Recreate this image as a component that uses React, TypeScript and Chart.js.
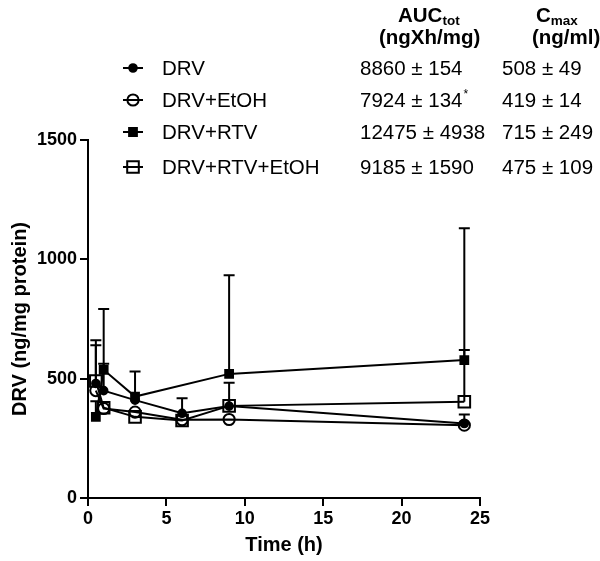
import React, { useEffect, useRef } from 'react';
import { Chart, registerables } from 'chart.js';

Chart.register(...registerables);

const FONT = "'Liberation Sans', Arial, Helvetica, sans-serif";

const times = [0.5, 1, 3, 6, 9, 24];
const seriesNames = ['DRV', 'DRV+EtOH', 'DRV+RTV', 'DRV+RTV+EtOH'];

const drvMean = [480, 450, 410, 355, 385, 312];
const drvSd = [160, 112, 0, 63, 0, 38];
const drvEtohMean = [450, 375, 360, 328, 329, 305];
const drvEtohSd = [0, 0, 0, 0, 0, 0];
const drvRtvMean = [340, 537, 425, null, 520, 578];
const drvRtvSd = [65, 255, 105, null, 413, 552];
const drvRtvEtohMean = [490, 378, 340, 325, 386, 403];
const drvRtvEtohSd = [171, 0, 0, 0, 97, 217];

const aucValues = ['8860 ± 154', '7924 ± 134', '12475 ± 4938', '9185 ± 1590'];
const aucMarks = ['', '*', '', ''];
const cmaxValues = ['508 ± 49', '419 ± 14', '715 ± 249', '475 ± 109'];

const xTickStep = 5;
const yTickStep = 500;

type Marker = { style: 'circle' | 'rect'; filled: boolean; radius: number };
const markers: Marker[] = [
  { style: 'circle', filled: true, radius: 3.8 },
  { style: 'circle', filled: false, radius: 5.6 },
  { style: 'rect', filled: true, radius: 5.5 },
  { style: 'rect', filled: false, radius: 8.2 },
];

const means = [drvMean, drvEtohMean, drvRtvMean, drvRtvEtohMean];
const sds = [drvSd, drvEtohSd, drvRtvSd, drvRtvEtohSd];

function drawMarker(ctx: CanvasRenderingContext2D, m: Marker, x: number, y: number) {
  ctx.save();
  ctx.lineWidth = 2;
  ctx.strokeStyle = '#000';
  ctx.fillStyle = '#000';
  ctx.beginPath();
  if (m.style === 'circle') {
    ctx.arc(x, y, m.radius, 0, Math.PI * 2);
  } else {
    const h = m.radius * Math.SQRT1_2;
    ctx.rect(x - h, y - h, 2 * h, 2 * h);
  }
  if (m.filled) ctx.fill();
  ctx.stroke();
  ctx.restore();
}

const errorBarPlugin = {
  id: 'errorBars',
  beforeDatasetsDraw(chart: any) {
    const { ctx, scales } = chart;
    ctx.save();
    ctx.strokeStyle = '#000';
    ctx.lineWidth = 2;
    sds.forEach((sdArr, si) => {
      sdArr.forEach((sd, i) => {
        const v = means[si][i];
        if (v == null || sd == null || sd <= 0) return;
        const px = scales.x.getPixelForValue(times[i]);
        const py = scales.y.getPixelForValue(v);
        const pt = scales.y.getPixelForValue(v + sd);
        ctx.beginPath();
        ctx.moveTo(px, py);
        ctx.lineTo(px, pt);
        ctx.moveTo(px - 5.5, pt);
        ctx.lineTo(px + 5.5, pt);
        ctx.stroke();
      });
    });
    ctx.restore();
  },
};

const tablePlugin = {
  id: 'legendTable',
  afterDraw(chart: any) {
    const ctx: CanvasRenderingContext2D = chart.ctx;
    ctx.save();
    ctx.fillStyle = '#000';
    ctx.textBaseline = 'alphabetic';
    ctx.textAlign = 'left';

    // headers
    ctx.font = `bold 20.5px ${FONT}`;
    ctx.fillText('AUC', 398, 22);
    const aucW = ctx.measureText('AUC').width;
    ctx.fillText('C', 536, 22);
    const cW = ctx.measureText('C').width;
    ctx.font = `bold 13.5px ${FONT}`;
    ctx.fillText('tot', 398 + aucW, 25);
    ctx.fillText('max', 536 + cW, 25);
    ctx.font = `bold 20.5px ${FONT}`;
    ctx.fillText('(ngXh/mg)', 379, 44);
    ctx.fillText('(ng/ml)', 532, 44);

    const baselines = [75, 107, 139, 174];
    seriesNames.forEach((name, i) => {
      const b = baselines[i];
      const cy = b - 7;
      ctx.save();
      ctx.strokeStyle = '#000';
      ctx.lineWidth = 2;
      ctx.beginPath();
      ctx.moveTo(123, cy);
      ctx.lineTo(143, cy);
      ctx.stroke();
      ctx.restore();
      drawMarker(ctx, markers[i], 133, cy);
      ctx.font = `20.5px ${FONT}`;
      ctx.fillText(name, 162, b);
      ctx.fillText(aucValues[i], 360, b);
      if (aucMarks[i]) {
        const w = ctx.measureText(aucValues[i]).width;
        ctx.font = `12px ${FONT}`;
        ctx.fillText(aucMarks[i], 360 + w + 1, b - 9);
        ctx.font = `20.5px ${FONT}`;
      }
      ctx.fillText(cmaxValues[i], 502, b);
    });
    ctx.restore();
  },
};

export default function App() {
  const ref = useRef<HTMLCanvasElement>(null);
  useEffect(() => {
    const canvas = ref.current!;
    const datasets = seriesNames.map((name, si) => ({
      label: name,
      data: times.map((t, i) => ({ x: t, y: means[si][i] })),
      borderColor: '#000',
      borderWidth: 2,
      backgroundColor: '#000',
      pointStyle: markers[si].style,
      pointRadius: markers[si].radius,
      pointBorderWidth: 2,
      pointBorderColor: '#000',
      pointBackgroundColor: markers[si].filled ? '#000' : 'rgba(0,0,0,0)',
      spanGaps: true,
      tension: 0,
      fill: false,
    }));
    const axisCommon = {
      grid: {
        display: true,
        drawOnChartArea: false,
        drawTicks: true,
        tickLength: 8,
        color: '#000',
        lineWidth: 2,
      },
      border: { display: true, color: '#000', width: 2 },
    };
    const chart = new Chart(canvas, {
      type: 'line',
      data: { datasets: datasets as any },
      options: {
        animation: false,
        responsive: false,
        maintainAspectRatio: false,
        layout: { padding: { top: 140, right: 120, bottom: 0, left: 0 } },
        plugins: { legend: { display: false }, tooltip: { enabled: false } },
        scales: {
          x: {
            type: 'linear',
            min: 0,
            max: 25,
            ...axisCommon,
            ticks: {
              stepSize: xTickStep,
              color: '#000',
              padding: 2,
              font: { family: FONT, size: 18, weight: 'bold' },
              callback: (v: any) => String(v),
            },
            title: {
              display: true,
              text: 'Time (h)',
              color: '#000',
              font: { family: FONT, size: 20, weight: 'bold' },
              padding: { top: 0, bottom: 4 },
            },
            afterFit: (s: any) => {
              s.height = 63;
            },
          },
          y: {
            type: 'linear',
            min: 0,
            max: 1500,
            ...axisCommon,
            ticks: {
              stepSize: yTickStep,
              color: '#000',
              padding: 3,
              font: { family: FONT, size: 18, weight: 'bold' },
              callback: (v: any) => String(v),
            },
            title: {
              display: true,
              text: 'DRV (ng/mg protein)',
              color: '#000',
              font: { family: FONT, size: 20, weight: 'bold' },
              padding: { top: 8, bottom: 0 },
            },
            afterFit: (s: any) => {
              s.width = 88;
            },
          },
        },
      } as any,
      plugins: [errorBarPlugin, tablePlugin],
    });
    return () => chart.destroy();
  }, []);
  return (
    <div style={{ position: 'absolute', left: 0, top: 0, width: 600, height: 561, background: '#fff' }}>
      <canvas ref={ref} width={600} height={561} style={{ display: 'block', width: 600, height: 561 }} />
    </div>
  );
}
